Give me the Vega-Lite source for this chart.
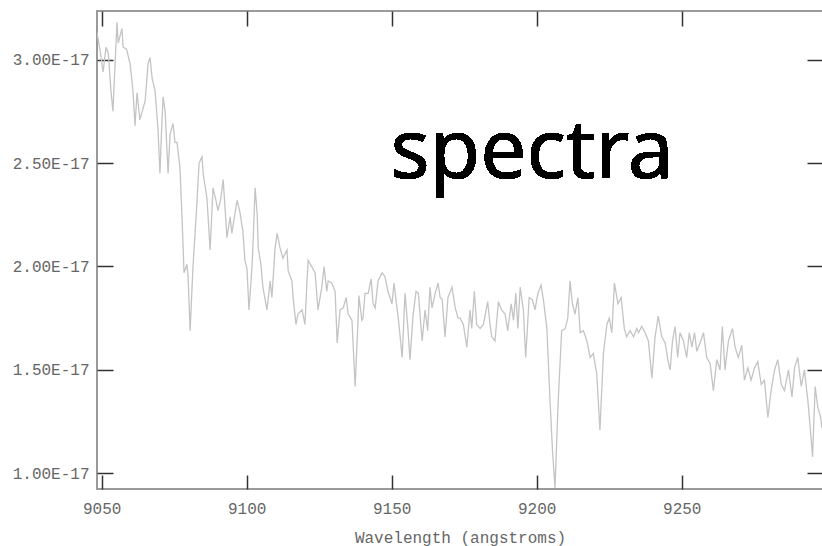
{
  "$schema": "https://vega.github.io/schema/vega-lite/v6.json",
  "width": 726,
  "height": 478,
  "autosize": {"type": "none"},
  "padding": {"left": 97, "top": 11, "right": 0, "bottom": 57},
  "background": "white",
  "data": {"values": [
    {"wl": 9048.4, "flux": 3.13e-17}, {"wl": 9049.4, "flux": 3.05e-17}, {"wl": 9050.5, "flux": 2.94e-17}, {"wl": 9051.5, "flux": 3.06e-17},
    {"wl": 9052.3, "flux": 3.03e-17}, {"wl": 9053.2, "flux": 2.85e-17}, {"wl": 9053.9, "flux": 2.75e-17}, {"wl": 9054.3, "flux": 2.88e-17},
    {"wl": 9055.3, "flux": 3.18e-17}, {"wl": 9055.7, "flux": 3.08e-17}, {"wl": 9057.0, "flux": 3.15e-17}, {"wl": 9057.4, "flux": 3.06e-17},
    {"wl": 9058.6, "flux": 3.05e-17}, {"wl": 9059.8, "flux": 2.98e-17}, {"wl": 9060.8, "flux": 2.85e-17}, {"wl": 9061.5, "flux": 2.68e-17},
    {"wl": 9062.2, "flux": 2.84e-17}, {"wl": 9063.2, "flux": 2.71e-17}, {"wl": 9063.8, "flux": 2.74e-17}, {"wl": 9065.0, "flux": 2.80e-17},
    {"wl": 9066.0, "flux": 2.98e-17}, {"wl": 9066.7, "flux": 3.01e-17}, {"wl": 9067.4, "flux": 2.91e-17}, {"wl": 9068.4, "flux": 2.85e-17},
    {"wl": 9069.4, "flux": 2.67e-17}, {"wl": 9070.1, "flux": 2.45e-17}, {"wl": 9070.7, "flux": 2.67e-17}, {"wl": 9071.2, "flux": 2.82e-17},
    {"wl": 9071.9, "flux": 2.75e-17}, {"wl": 9072.9, "flux": 2.45e-17}, {"wl": 9073.6, "flux": 2.64e-17}, {"wl": 9074.6, "flux": 2.69e-17},
    {"wl": 9075.3, "flux": 2.60e-17}, {"wl": 9076.0, "flux": 2.60e-17}, {"wl": 9077.0, "flux": 2.48e-17}, {"wl": 9077.7, "flux": 2.24e-17},
    {"wl": 9078.4, "flux": 1.97e-17}, {"wl": 9079.4, "flux": 2.01e-17}, {"wl": 9079.8, "flux": 1.95e-17}, {"wl": 9080.5, "flux": 1.69e-17},
    {"wl": 9081.5, "flux": 2.00e-17}, {"wl": 9082.9, "flux": 2.32e-17}, {"wl": 9083.6, "flux": 2.50e-17}, {"wl": 9084.6, "flux": 2.53e-17},
    {"wl": 9085.0, "flux": 2.45e-17}, {"wl": 9086.3, "flux": 2.33e-17}, {"wl": 9087.4, "flux": 2.08e-17}, {"wl": 9088.4, "flux": 2.38e-17},
    {"wl": 9089.4, "flux": 2.32e-17}, {"wl": 9090.1, "flux": 2.27e-17}, {"wl": 9091.1, "flux": 2.33e-17}, {"wl": 9091.9, "flux": 2.42e-17},
    {"wl": 9093.2, "flux": 2.14e-17}, {"wl": 9094.3, "flux": 2.24e-17}, {"wl": 9094.9, "flux": 2.16e-17}, {"wl": 9096.0, "flux": 2.26e-17},
    {"wl": 9096.7, "flux": 2.32e-17}, {"wl": 9097.7, "flux": 2.26e-17}, {"wl": 9098.7, "flux": 2.17e-17}, {"wl": 9099.4, "flux": 2.03e-17},
    {"wl": 9100.1, "flux": 1.99e-17}, {"wl": 9100.8, "flux": 1.79e-17}, {"wl": 9101.8, "flux": 1.99e-17}, {"wl": 9102.2, "flux": 2.11e-17},
    {"wl": 9102.9, "flux": 2.38e-17}, {"wl": 9103.6, "flux": 2.26e-17}, {"wl": 9104.0, "flux": 2.09e-17}, {"wl": 9104.9, "flux": 2.01e-17},
    {"wl": 9105.6, "flux": 1.90e-17}, {"wl": 9107.0, "flux": 1.79e-17}, {"wl": 9108.1, "flux": 1.93e-17}, {"wl": 9108.7, "flux": 1.85e-17},
    {"wl": 9109.8, "flux": 2.09e-17}, {"wl": 9110.5, "flux": 2.16e-17}, {"wl": 9111.5, "flux": 2.09e-17}, {"wl": 9112.5, "flux": 2.04e-17},
    {"wl": 9113.9, "flux": 2.08e-17}, {"wl": 9114.3, "flux": 1.98e-17}, {"wl": 9115.6, "flux": 1.93e-17}, {"wl": 9116.0, "flux": 1.85e-17},
    {"wl": 9117.0, "flux": 1.72e-17}, {"wl": 9117.7, "flux": 1.77e-17}, {"wl": 9119.1, "flux": 1.79e-17}, {"wl": 9120.1, "flux": 1.72e-17},
    {"wl": 9120.8, "flux": 1.93e-17}, {"wl": 9121.2, "flux": 2.03e-17}, {"wl": 9122.4, "flux": 2.00e-17}, {"wl": 9123.6, "flux": 1.97e-17},
    {"wl": 9124.6, "flux": 1.79e-17}, {"wl": 9125.9, "flux": 1.90e-17}, {"wl": 9126.7, "flux": 2.00e-17}, {"wl": 9127.6, "flux": 1.88e-17},
    {"wl": 9128.1, "flux": 1.93e-17}, {"wl": 9129.3, "flux": 1.92e-17}, {"wl": 9130.5, "flux": 1.88e-17}, {"wl": 9131.2, "flux": 1.63e-17},
    {"wl": 9132.2, "flux": 1.79e-17}, {"wl": 9133.3, "flux": 1.80e-17}, {"wl": 9134.3, "flux": 1.85e-17}, {"wl": 9135.0, "flux": 1.77e-17},
    {"wl": 9136.3, "flux": 1.74e-17}, {"wl": 9137.4, "flux": 1.42e-17}, {"wl": 9138.4, "flux": 1.74e-17}, {"wl": 9138.7, "flux": 1.86e-17},
    {"wl": 9139.7, "flux": 1.74e-17}, {"wl": 9140.1, "flux": 1.75e-17}, {"wl": 9140.8, "flux": 1.87e-17}, {"wl": 9141.9, "flux": 1.87e-17},
    {"wl": 9142.9, "flux": 1.94e-17}, {"wl": 9143.6, "flux": 1.82e-17}, {"wl": 9144.3, "flux": 1.80e-17}, {"wl": 9145.3, "flux": 1.93e-17},
    {"wl": 9146.7, "flux": 1.97e-17}, {"wl": 9147.7, "flux": 1.95e-17}, {"wl": 9148.7, "flux": 1.88e-17}, {"wl": 9150.1, "flux": 1.82e-17},
    {"wl": 9150.8, "flux": 1.92e-17}, {"wl": 9151.9, "flux": 1.79e-17}, {"wl": 9152.5, "flux": 1.72e-17}, {"wl": 9153.6, "flux": 1.56e-17},
    {"wl": 9154.6, "flux": 1.87e-17}, {"wl": 9155.5, "flux": 1.72e-17}, {"wl": 9156.3, "flux": 1.55e-17}, {"wl": 9157.4, "flux": 1.77e-17},
    {"wl": 9158.4, "flux": 1.88e-17}, {"wl": 9159.2, "flux": 1.87e-17}, {"wl": 9160.5, "flux": 1.64e-17}, {"wl": 9161.5, "flux": 1.79e-17},
    {"wl": 9162.4, "flux": 1.69e-17}, {"wl": 9163.2, "flux": 1.90e-17}, {"wl": 9163.9, "flux": 1.80e-17}, {"wl": 9165.0, "flux": 1.87e-17},
    {"wl": 9166.0, "flux": 1.92e-17}, {"wl": 9166.7, "flux": 1.85e-17}, {"wl": 9167.4, "flux": 1.84e-17}, {"wl": 9168.4, "flux": 1.66e-17},
    {"wl": 9169.4, "flux": 1.85e-17}, {"wl": 9170.8, "flux": 1.90e-17}, {"wl": 9171.9, "flux": 1.80e-17}, {"wl": 9172.9, "flux": 1.75e-17},
    {"wl": 9173.6, "flux": 1.75e-17}, {"wl": 9174.7, "flux": 1.72e-17}, {"wl": 9175.9, "flux": 1.61e-17}, {"wl": 9177.0, "flux": 1.79e-17},
    {"wl": 9177.6, "flux": 1.70e-17}, {"wl": 9178.5, "flux": 1.88e-17}, {"wl": 9179.3, "flux": 1.72e-17}, {"wl": 9180.5, "flux": 1.70e-17},
    {"wl": 9181.6, "flux": 1.72e-17}, {"wl": 9183.1, "flux": 1.83e-17}, {"wl": 9183.9, "flux": 1.72e-17}, {"wl": 9184.5, "flux": 1.66e-17},
    {"wl": 9185.6, "flux": 1.64e-17}, {"wl": 9186.8, "flux": 1.83e-17}, {"wl": 9187.9, "flux": 1.79e-17}, {"wl": 9189.1, "flux": 1.77e-17},
    {"wl": 9190.0, "flux": 1.69e-17}, {"wl": 9191.2, "flux": 1.82e-17}, {"wl": 9192.0, "flux": 1.74e-17}, {"wl": 9192.8, "flux": 1.87e-17},
    {"wl": 9193.5, "flux": 1.70e-17}, {"wl": 9194.3, "flux": 1.90e-17}, {"wl": 9195.4, "flux": 1.79e-17}, {"wl": 9196.2, "flux": 1.56e-17},
    {"wl": 9197.4, "flux": 1.85e-17}, {"wl": 9198.5, "flux": 1.84e-17}, {"wl": 9199.4, "flux": 1.79e-17}, {"wl": 9200.4, "flux": 1.87e-17},
    {"wl": 9201.5, "flux": 1.91e-17}, {"wl": 9202.3, "flux": 1.84e-17}, {"wl": 9203.5, "flux": 1.70e-17}, {"wl": 9204.6, "flux": 1.35e-17},
    {"wl": 9205.4, "flux": 1.12e-17}, {"wl": 9206.3, "flux": 0.93e-17}, {"wl": 9207.4, "flux": 1.35e-17}, {"wl": 9208.6, "flux": 1.69e-17},
    {"wl": 9209.8, "flux": 1.70e-17}, {"wl": 9210.7, "flux": 1.75e-17}, {"wl": 9211.5, "flux": 1.93e-17}, {"wl": 9212.3, "flux": 1.82e-17},
    {"wl": 9213.2, "flux": 1.77e-17}, {"wl": 9214.2, "flux": 1.85e-17}, {"wl": 9215.0, "flux": 1.68e-17}, {"wl": 9216.1, "flux": 1.69e-17},
    {"wl": 9217.3, "flux": 1.64e-17}, {"wl": 9218.4, "flux": 1.56e-17}, {"wl": 9219.5, "flux": 1.58e-17}, {"wl": 9220.7, "flux": 1.48e-17},
    {"wl": 9221.8, "flux": 1.21e-17}, {"wl": 9223.0, "flux": 1.58e-17}, {"wl": 9224.2, "flux": 1.72e-17}, {"wl": 9225.0, "flux": 1.75e-17},
    {"wl": 9225.9, "flux": 1.68e-17}, {"wl": 9226.8, "flux": 1.92e-17}, {"wl": 9228.0, "flux": 1.82e-17}, {"wl": 9229.1, "flux": 1.85e-17},
    {"wl": 9230.2, "flux": 1.70e-17}, {"wl": 9231.0, "flux": 1.66e-17}, {"wl": 9232.2, "flux": 1.69e-17}, {"wl": 9233.4, "flux": 1.66e-17},
    {"wl": 9234.5, "flux": 1.70e-17}, {"wl": 9235.1, "flux": 1.68e-17}, {"wl": 9236.2, "flux": 1.71e-17}, {"wl": 9237.4, "flux": 1.68e-17},
    {"wl": 9238.5, "flux": 1.64e-17}, {"wl": 9239.7, "flux": 1.46e-17}, {"wl": 9240.8, "flux": 1.66e-17}, {"wl": 9241.9, "flux": 1.76e-17},
    {"wl": 9243.1, "flux": 1.66e-17}, {"wl": 9244.3, "flux": 1.63e-17}, {"wl": 9245.2, "flux": 1.55e-17}, {"wl": 9246.0, "flux": 1.50e-17},
    {"wl": 9246.8, "flux": 1.64e-17}, {"wl": 9247.7, "flux": 1.71e-17}, {"wl": 9248.6, "flux": 1.56e-17}, {"wl": 9249.4, "flux": 1.68e-17},
    {"wl": 9250.6, "flux": 1.64e-17}, {"wl": 9251.7, "flux": 1.56e-17}, {"wl": 9252.6, "flux": 1.68e-17}, {"wl": 9253.5, "flux": 1.61e-17},
    {"wl": 9254.4, "flux": 1.68e-17}, {"wl": 9255.2, "flux": 1.59e-17}, {"wl": 9256.3, "flux": 1.63e-17}, {"wl": 9257.5, "flux": 1.68e-17},
    {"wl": 9258.6, "flux": 1.56e-17}, {"wl": 9259.8, "flux": 1.53e-17}, {"wl": 9260.9, "flux": 1.40e-17}, {"wl": 9262.1, "flux": 1.55e-17},
    {"wl": 9263.2, "flux": 1.50e-17}, {"wl": 9264.0, "flux": 1.71e-17}, {"wl": 9264.9, "flux": 1.50e-17}, {"wl": 9266.1, "flux": 1.64e-17},
    {"wl": 9267.5, "flux": 1.70e-17}, {"wl": 9268.4, "flux": 1.61e-17}, {"wl": 9269.5, "flux": 1.56e-17}, {"wl": 9270.7, "flux": 1.62e-17},
    {"wl": 9271.6, "flux": 1.45e-17}, {"wl": 9272.8, "flux": 1.51e-17}, {"wl": 9273.9, "flux": 1.45e-17}, {"wl": 9275.1, "flux": 1.51e-17},
    {"wl": 9276.2, "flux": 1.54e-17}, {"wl": 9277.4, "flux": 1.43e-17}, {"wl": 9278.5, "flux": 1.45e-17}, {"wl": 9279.7, "flux": 1.27e-17},
    {"wl": 9280.8, "flux": 1.40e-17}, {"wl": 9282.0, "flux": 1.50e-17}, {"wl": 9283.1, "flux": 1.55e-17}, {"wl": 9284.3, "flux": 1.43e-17},
    {"wl": 9285.4, "flux": 1.40e-17}, {"wl": 9286.8, "flux": 1.50e-17}, {"wl": 9288.0, "flux": 1.37e-17}, {"wl": 9288.9, "flux": 1.51e-17},
    {"wl": 9290.0, "flux": 1.56e-17}, {"wl": 9291.2, "flux": 1.42e-17}, {"wl": 9292.3, "flux": 1.50e-17}, {"wl": 9293.5, "flux": 1.35e-17},
    {"wl": 9294.3, "flux": 1.22e-17}, {"wl": 9295.1, "flux": 1.08e-17}, {"wl": 9296.0, "flux": 1.42e-17}, {"wl": 9296.9, "flux": 1.32e-17},
    {"wl": 9297.9, "flux": 1.27e-17}, {"wl": 9298.3, "flux": 1.22e-17}
  ]},
  "resolve": {"axis": {"x": "independent", "y": "independent"}},
  "layer": [
    {
      "mark": {"type": "line", "color": "#c4c4c4", "strokeWidth": 1.3, "clip": true},
      "encoding": {
        "x": {"field": "wl", "type": "quantitative",
              "scale": {"domain": [9048.4, 9298.7], "nice": false, "zero": false},
              "axis": {"orient": "bottom", "values": [9050, 9100, 9150, 9200, 9250], "format": "d",
                       "title": "Wavelength (angstroms)", "tickSize": -14, "labelPadding": 25, "titlePadding": 13}},
        "y": {"field": "flux", "type": "quantitative",
              "scale": {"domain": [0.9245e-17, 3.235e-17], "nice": false, "zero": false},
              "axis": {"orient": "left", "values": [1e-17, 1.5e-17, 2e-17, 2.5e-17, 3e-17],
                       "labelExpr": "upper(format(datum.value, '.2e'))", "title": null,
                       "tickSize": -16, "labelPadding": 24}}
      }
    },
    {
      "mark": {"type": "line", "strokeOpacity": 0},
      "encoding": {
        "x": {"field": "wl", "type": "quantitative",
              "axis": {"orient": "top", "values": [9050, 9100, 9150, 9200, 9250], "labels": false, "title": null, "tickSize": -15}},
        "y": {"field": "flux", "type": "quantitative",
              "axis": {"orient": "right", "values": [1e-17, 1.5e-17, 2e-17, 2.5e-17, 3e-17], "labels": false, "title": null, "tickSize": -16}}
      }
    },
    {
      "mark": {"type": "text", "text": "spectra", "font": "Noto Sans", "fontSize": 82, "color": "#000000", "align": "center", "baseline": "alphabetic"},
      "encoding": {
        "x": {"datum": 9198.4, "type": "quantitative", "axis": null},
        "y": {"datum": 2.426e-17, "type": "quantitative", "axis": null}
      }
    }
  ],
  "config": {
    "view": {"stroke": "#9a9a9a", "strokeWidth": 2},
    "axis": {
      "domain": false, "grid": false,
      "tickColor": "#333333", "tickWidth": 1.5,
      "labelFont": "Liberation Mono", "labelFontSize": 16, "labelColor": "#666666",
      "titleFont": "Liberation Mono", "titleFontSize": 16, "titleColor": "#666666", "titleFontWeight": "normal"
    }
  }
}
